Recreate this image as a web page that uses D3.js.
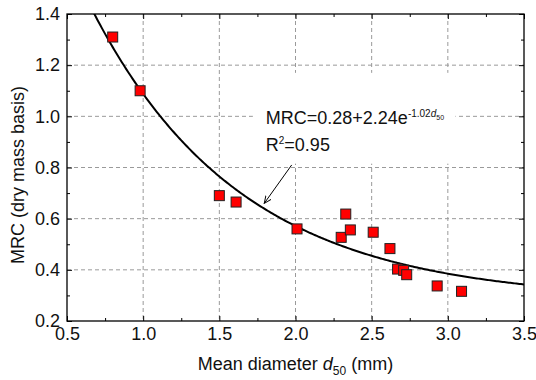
<!DOCTYPE html>
<html>
<head>
<meta charset="utf-8">
<script src="https://cdn.jsdelivr.net/npm/d3@7"></script>
<style>
body { margin: 0; background: #fff; }
text { font-family: "Liberation Sans", Arial, sans-serif; fill: #111; }
</style>
</head>
<body>
<svg id="chart" width="536" height="380"></svg>
<script>
// measured points
var d50 = [0.80, 0.98, 1.50, 1.61, 2.01, 2.30, 2.33, 2.36, 2.51, 2.62, 2.67, 2.71, 2.73, 2.93, 3.09]
var mrc = [1.31, 1.10, 0.69, 0.665, 0.56, 0.527, 0.618, 0.556, 0.547, 0.483, 0.403, 0.398, 0.381, 0.337, 0.316]
var xTicks = [0.5, 1.0, 1.5, 2.0, 2.5, 3.0, 3.5]
var yTicks = [0.2, 0.4, 0.6, 0.8, 1.0, 1.2, 1.4]
var xMinor = [0.75, 1.25, 1.75, 2.25, 2.75, 3.25]
var yMinor = [0.3, 0.5, 0.7, 0.9, 1.1, 1.3]
// MRC = a + b*exp(c*d50), R^2 from the figure
var fitCoef = [0.28, 2.24, -1.02]
var fitR2 = 0.95

var W = 536, H = 380
var m = {top: 14, right: 12, bottom: 59, left: 67}
var w = W - m.left - m.right, h = H - m.top - m.bottom

var svg = d3.select('#chart')
var g = svg.append('g').attr('transform', 'translate(' + m.left + ',' + m.top + ')')

var x = d3.scaleLinear().domain([0.5, 3.5]).range([0, w])
var y = d3.scaleLinear().domain([0.2, 1.4]).range([h, 0])

g.append('clipPath').attr('id', 'clip')
    .append('rect').attr('width', w).attr('height', h)

// grid
g.selectAll('.gx').data(xTicks.slice(1, -1)).enter().append('line')
    .attr('x1', function(d) { return x(d) }).attr('x2', function(d) { return x(d) })
    .attr('y1', 0).attr('y2', h)
    .attr('stroke', '#9a9a9a').attr('stroke-width', 1).attr('stroke-dasharray', '4,3')
g.selectAll('.gy').data(yTicks.slice(1, -1)).enter().append('line')
    .attr('y1', function(d) { return y(d) }).attr('y2', function(d) { return y(d) })
    .attr('x1', 0).attr('x2', w)
    .attr('stroke', '#9a9a9a').attr('stroke-width', 1).attr('stroke-dasharray', '4,3')

// white box behind the equation
g.append('rect')
    .attr('x', x(1.72)).attr('y', y(1.17))
    .attr('width', x(3.05) - x(1.72)).attr('height', y(0.815) - y(1.17))
    .attr('fill', '#fff')

// fitted curve
var fitX = d3.range(0.5, 3.5001, 0.01)
var line = d3.line()
    .x(function(d) { return x(d) })
    .y(function(d) { return y(fitCoef[0] + fitCoef[1] * Math.exp(fitCoef[2] * d)) })
g.append('path').datum(fitX)
    .attr('clip-path', 'url(#clip)')
    .attr('d', line)
    .attr('fill', 'none').attr('stroke', '#000').attr('stroke-width', 2)

// points
g.selectAll('.pt').data(d50).enter().append('rect')
    .attr('x', function(d) { return x(d) - 5 })
    .attr('y', function(d, i) { return y(mrc[i]) - 5 })
    .attr('width', 10).attr('height', 10)
    .attr('fill', '#ff0000').attr('stroke', '#222').attr('stroke-width', 1)

// axes, ticks pointing inward
function styleAxis(sel) {
    sel.selectAll('text').style('font-size', '18px').attr('fill', '#111')
    sel.selectAll('line').attr('stroke', '#000')
    sel.select('.domain').remove()
}
g.append('g').attr('transform', 'translate(0,' + h + ')')
    .call(d3.axisBottom(x).tickValues(xTicks).tickFormat(d3.format('.1f')).tickSizeInner(-5).tickSizeOuter(0).tickPadding(6))
    .call(styleAxis)
g.append('g').attr('transform', 'translate(0,' + h + ')')
    .call(d3.axisBottom(x).tickValues(xMinor).tickFormat('').tickSizeInner(-3).tickSizeOuter(0))
    .call(styleAxis)
g.append('g')
    .call(d3.axisLeft(y).tickValues(yTicks).tickFormat(d3.format('.1f')).tickSizeInner(-5).tickSizeOuter(0).tickPadding(7))
    .call(styleAxis)
g.append('g')
    .call(d3.axisLeft(y).tickValues(yMinor).tickFormat('').tickSizeInner(-3).tickSizeOuter(0))
    .call(styleAxis)
g.append('g')
    .call(d3.axisTop(x).tickValues(xTicks).tickFormat('').tickSizeInner(-5).tickSizeOuter(0))
    .call(styleAxis)
g.append('g')
    .call(d3.axisTop(x).tickValues(xMinor).tickFormat('').tickSizeInner(-3).tickSizeOuter(0))
    .call(styleAxis)
g.append('g').attr('transform', 'translate(' + w + ',0)')
    .call(d3.axisRight(y).tickValues(yTicks).tickFormat('').tickSizeInner(-5).tickSizeOuter(0))
    .call(styleAxis)
g.append('g').attr('transform', 'translate(' + w + ',0)')
    .call(d3.axisRight(y).tickValues(yMinor).tickFormat('').tickSizeInner(-3).tickSizeOuter(0))
    .call(styleAxis)

g.append('rect').attr('width', w).attr('height', h)
    .attr('fill', 'none').attr('stroke', '#000').attr('stroke-width', 1.3)

// equation + arrow
var eq = g.append('text').attr('x', x(1.805)).attr('y', y(0.97)).style('font-size', '18px')
eq.append('tspan').text('MRC=' + fitCoef[0] + '+' + fitCoef[1] + 'e')
eq.append('tspan').attr('dy', -7).style('font-size', '10px').text(fitCoef[2].toFixed(2))
eq.append('tspan').style('font-size', '10px').style('font-style', 'italic').text('d')
eq.append('tspan').attr('dy', 3).style('font-size', '7px').text('50')

var r2 = g.append('text').attr('x', x(1.805)).attr('y', y(0.865)).style('font-size', '18px')
r2.append('tspan').text('R')
r2.append('tspan').attr('dy', -7).style('font-size', '10px').text('2')
r2.append('tspan').attr('dy', 7).text('=' + fitR2.toFixed(2))

svg.append('defs').append('marker')
    .attr('id', 'arrow').attr('viewBox', '0 -5 10 10')
    .attr('refX', 9).attr('refY', 0)
    .attr('markerWidth', 8).attr('markerHeight', 8).attr('markerUnits', 'userSpaceOnUse')
    .attr('orient', 'auto')
    .append('path').attr('d', 'M0,-4L9,0L0,4')
    .attr('fill', 'none').attr('stroke', '#000').attr('stroke-width', 1.2)
g.append('line')
    .attr('x1', x(1.975)).attr('y1', y(0.81))
    .attr('x2', x(1.795)).attr('y2', y(0.66))
    .attr('stroke', '#000').attr('stroke-width', 1)
    .attr('marker-end', 'url(#arrow)')

// axis titles
var xt = svg.append('text').attr('text-anchor', 'middle')
    .attr('x', m.left + w / 2).attr('y', 370).style('font-size', '18px')
xt.append('tspan').text('Mean diameter ')
xt.append('tspan').style('font-style', 'italic').text('d')
xt.append('tspan').attr('dy', 5).style('font-size', '12px').text('50')
xt.append('tspan').attr('dy', -5).text(' (mm)')

svg.append('text').attr('text-anchor', 'middle')
    .attr('transform', 'translate(24,175) rotate(-90)')
    .style('font-size', '18px')
    .text('MRC (dry mass basis)')
</script>
</body>
</html>
